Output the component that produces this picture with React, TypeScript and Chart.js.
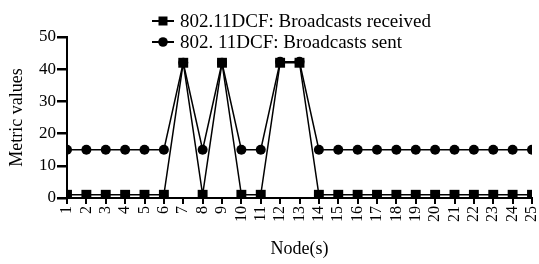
import React, { useEffect, useRef } from "react";
import { Chart, registerables } from "chart.js";

Chart.register(...registerables);

const nodes = [1, 2, 3, 4, 5, 6, 7, 8, 9, 10, 11, 12, 13, 14, 15, 16, 17, 18, 19, 20, 21, 22, 23, 24, 25];
const received = [1, 1, 1, 1, 1, 1, 42, 1, 42, 1, 1, 42, 42, 1, 1, 1, 1, 1, 1, 1, 1, 1, 1, 1, 1];
const sent = [15, 15, 15, 15, 15, 15, 42, 15, 42, 15, 15, 42.3, 42.3, 15, 15, 15, 15, 15, 15, 15, 15, 15, 15, 15, 15];
const seriesLabels = ["802.11DCF: Broadcasts received", "802. 11DCF: Broadcasts sent"];
const yTicks = [0, 10, 20, 30, 40, 50];

const FONT = "'Liberation Serif', 'Times New Roman', serif";

const legendPlugin = {
  id: "lineLegend",
  afterDraw(chart: any) {
    const ctx = chart.ctx;
    const rows = [21, 42];
    chart.data.datasets.forEach((ds: any, i: number) => {
      const y = rows[i];
      ctx.save();
      ctx.strokeStyle = "#000";
      ctx.fillStyle = "#000";
      ctx.lineWidth = 2;
      ctx.beginPath();
      ctx.moveTo(152, y);
      ctx.lineTo(174, y);
      ctx.stroke();
      ctx.beginPath();
      if (ds.pointStyle === "rect") {
        ctx.rect(158.5, y - 4.5, 9, 9);
      } else {
        ctx.arc(163, y, 4.8, 0, Math.PI * 2);
      }
      ctx.fill();
      ctx.font = "19px " + FONT;
      ctx.textBaseline = "middle";
      ctx.textAlign = "left";
      ctx.fillText(ds.label, 180, y + 1);
      ctx.restore();
    });
  },
};

export default function App() {
  const ref = useRef<HTMLCanvasElement>(null);
  useEffect(() => {
    if (!ref.current) return;
    const chart = new Chart(ref.current, {
      type: "line",
      data: {
        datasets: [
          {
            label: seriesLabels[0],
            data: nodes.map((n, i) => ({ x: n, y: received[i] })),
            borderColor: "#000",
            backgroundColor: "#000",
            borderWidth: 1.5,
            pointStyle: "rect",
            pointRadius: 7,
            pointBorderWidth: 0,
          },
          {
            label: seriesLabels[1],
            data: nodes.map((n, i) => ({ x: n, y: sent[i] })),
            borderColor: "#000",
            backgroundColor: "#000",
            borderWidth: 1.5,
            pointStyle: "circle",
            pointRadius: 5,
            pointBorderWidth: 0,
          },
        ],
      },
      options: {
        animation: false,
        responsive: true,
        maintainAspectRatio: false,
        layout: { padding: { top: 37, left: 0, right: 2, bottom: 0 } },
        plugins: { legend: { display: false }, tooltip: { enabled: false } },
        scales: {
          x: {
            type: "linear",
            min: 1,
            max: 25,
            afterFit: (s: any) => {
              s.height = 66;
              s.paddingRight = 0;
              s.paddingLeft = 0;
            },
            afterBuildTicks: (s: any) => {
              s.ticks = nodes.map((v) => ({ value: v }));
            },
            ticks: {
              autoSkip: false,
              minRotation: 90,
              maxRotation: 90,
              color: "#000",
              font: { family: FONT, size: 16 },
              padding: 2,
              callback: (v: any) => String(v),
            },
            grid: { drawOnChartArea: false, drawTicks: true, tickLength: 6, color: "#000", lineWidth: 2 },
            border: { color: "#000", width: 2 },
            title: { display: true, text: "Node(s)", color: "#000", font: { family: FONT, size: 18 }, padding: { top: 0, bottom: 4 } },
          },
          y: {
            min: 0,
            max: 50,
            afterFit: (s: any) => {
              s.width = 67;
            },
            afterBuildTicks: (s: any) => {
              s.ticks = yTicks.map((v) => ({ value: v }));
            },
            ticks: {
              color: "#000",
              font: { family: FONT, size: 17 },
              padding: 1,
            },
            grid: { drawOnChartArea: false, drawTicks: true, tickLength: 10, color: "#000", lineWidth: 2.5 },
            border: { color: "#000", width: 2 },
            title: { display: true, text: "Metric values", color: "#000", font: { family: FONT, size: 18 }, padding: { top: 6, bottom: 0 } },
          },
        },
      },
      plugins: [legendPlugin],
    });
    return () => chart.destroy();
  }, []);
  return (
    <div style={{ position: "absolute", left: 0, top: 0, width: 539, height: 264 }}>
      <canvas ref={ref} />
    </div>
  );
}
